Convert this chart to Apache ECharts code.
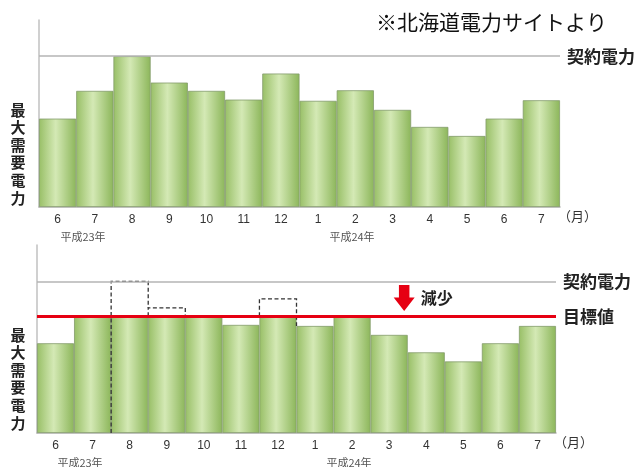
<!DOCTYPE html>
<html><head><meta charset="utf-8">
<script src="https://cdn.jsdelivr.net/npm/echarts@6/dist/echarts.min.js"></script>
<style>html,body{margin:0;padding:0;background:#fff}#c{width:640px;height:467px}</style>
</head><body><div id="c"></div>
<script>
const months = ['6','7','8','9','10','11','12','1','2','3','4','5','6','7'];
const beforeVals = [58.6,77,100,82.5,77,71.2,88.5,70.4,77.4,64.4,53.1,47.1,58.6,70.8];
const afterVals = [59.2,77,77,77,77,71.3,77,70.6,77,64.7,53.2,47.2,59.2,70.6];
const contractPower = 100;
const targetPower = 77;
const arrowValue = 89;
// [categoryIndex, top value, left edge bottom, right edge bottom]
const cutParts = [[2,100,0,82.5],[3,82.5,77,77],[6,88.5,77,70.6]];
const yMax = 124;

const F = '"Noto Sans CJK JP","Noto Sans",sans-serif';
const barGrad = {type:'linear',x:0,y:0,x2:1,y2:0,colorStops:[
  {offset:0,color:'#98bf66'},{offset:0.45,color:'#d4e9b5'},{offset:1,color:'#8cb65a'}]};
const barStyle = {color:barGrad,borderColor:'#849c6c',borderWidth:0.8};

function xAx(i){return {type:'category',gridIndex:i,data:months,boundaryGap:true,
  axisLine:{lineStyle:{color:'#b0b0b0',width:1.5}},axisTick:{show:false},
  axisLabel:{color:'#333',fontSize:12,margin:7,fontFamily:'Liberation Sans, Arial'},
  name:'（月）',nameLocation:'end',nameGap:-2,
  nameTextStyle:{color:'#333',fontSize:13,fontFamily:F,verticalAlign:'top',padding:[3,0,0,0]}};}
function yAx(i){return {type:'value',gridIndex:i,min:0,max:yMax,
  axisLine:{show:true,lineStyle:{color:'#c0c0c0',width:1.5}},axisTick:{show:false},
  axisLabel:{show:false},splitLine:{show:false}};}
const mlLabel = (t)=>({show:true,position:'end',formatter:t,distance:7,
  fontSize:17,fontWeight:'bold',color:'#222',fontFamily:F});

const chart = echarts.init(document.getElementById('c'));
chart.setOption({
  animation:false,
  grid:[{left:39,right:80,top:20,height:187},{left:37,right:84,top:245,height:188}],
  xAxis:[xAx(0),xAx(1)],
  yAxis:[yAx(0),yAx(1)],
  graphic:[
    {type:'text',left:376,top:12,style:{text:'※北海道電力サイトより',font:'21px '+F,fill:'#111'}},
    {type:'text',x:18,y:101,style:{text:'最\n大\n需\n要\n電\n力',font:'bold 15px '+F,lineHeight:17.6,fill:'#222',align:'center'}},
    {type:'text',x:18,y:326,style:{text:'最\n大\n需\n要\n電\n力',font:'bold 15px '+F,lineHeight:17.6,fill:'#222',align:'center'}},
    {type:'text',x:83,y:237,style:{text:'平成23年',font:'11px '+F,fill:'#555',align:'center',verticalAlign:'middle'}},
    {type:'text',x:352,y:237,style:{text:'平成24年',font:'11px '+F,fill:'#555',align:'center',verticalAlign:'middle'}},
    {type:'text',x:80,y:463,style:{text:'平成23年',font:'11px '+F,fill:'#555',align:'center',verticalAlign:'middle'}},
    {type:'text',x:349,y:463,style:{text:'平成24年',font:'11px '+F,fill:'#555',align:'center',verticalAlign:'middle'}}
  ],
  series:[
    {type:'bar',xAxisIndex:0,yAxisIndex:0,data:beforeVals,barCategoryGap:0,itemStyle:barStyle,
     markLine:{silent:true,symbol:'none',lineStyle:{color:'#b5b5b5',width:1.5,type:'solid'},
       label:mlLabel('契約電力'),data:[{yAxis:contractPower}]}},
    {type:'bar',xAxisIndex:1,yAxisIndex:1,data:afterVals,barCategoryGap:0,itemStyle:barStyle,z:2,
     markLine:{silent:true,symbol:'none',z:5,
       data:[
         {yAxis:contractPower,lineStyle:{color:'#b5b5b5',width:1.5,type:'solid'},label:mlLabel('契約電力')},
         {yAxis:targetPower,lineStyle:{color:'#e60012',width:3,type:'solid'},label:mlLabel('目標値')}
       ]},
     markPoint:{silent:true,
       data:[{coord:['3',arrowValue],symbol:'path://M5,0 L15,0 L15,12 L20,12 L10,25 L0,12 L5,12 Z',
         symbolSize:[21,26],symbolOffset:[15,0],itemStyle:{color:'#e60012'},
         label:{show:true,position:'right',distance:6,formatter:'減少',fontSize:16,fontWeight:'bold',color:'#222',fontFamily:F}}]}},
    {type:'custom',xAxisIndex:1,yAxisIndex:1,z:4,data:cutParts,
     renderItem:function(params,api){
       const idx=api.value(0), top=api.value(1), lb=api.value(2), rb=api.value(3);
       const c=api.coord([idx,top]);
       const bw=api.size([1,0])[0];
       const xl=c[0]-bw/2, xr=c[0]+bw/2;
       const yl=api.coord([idx,lb])[1], yr=api.coord([idx,rb])[1];
       return {type:'polyline',shape:{points:[[xl,yl],[xl,c[1]],[xr,c[1]],[xr,yr]]},
         style:{stroke:'#333',lineWidth:1.3,lineDash:[4,2.5],fill:null}};
     }}
  ]
});
</script></body></html>
